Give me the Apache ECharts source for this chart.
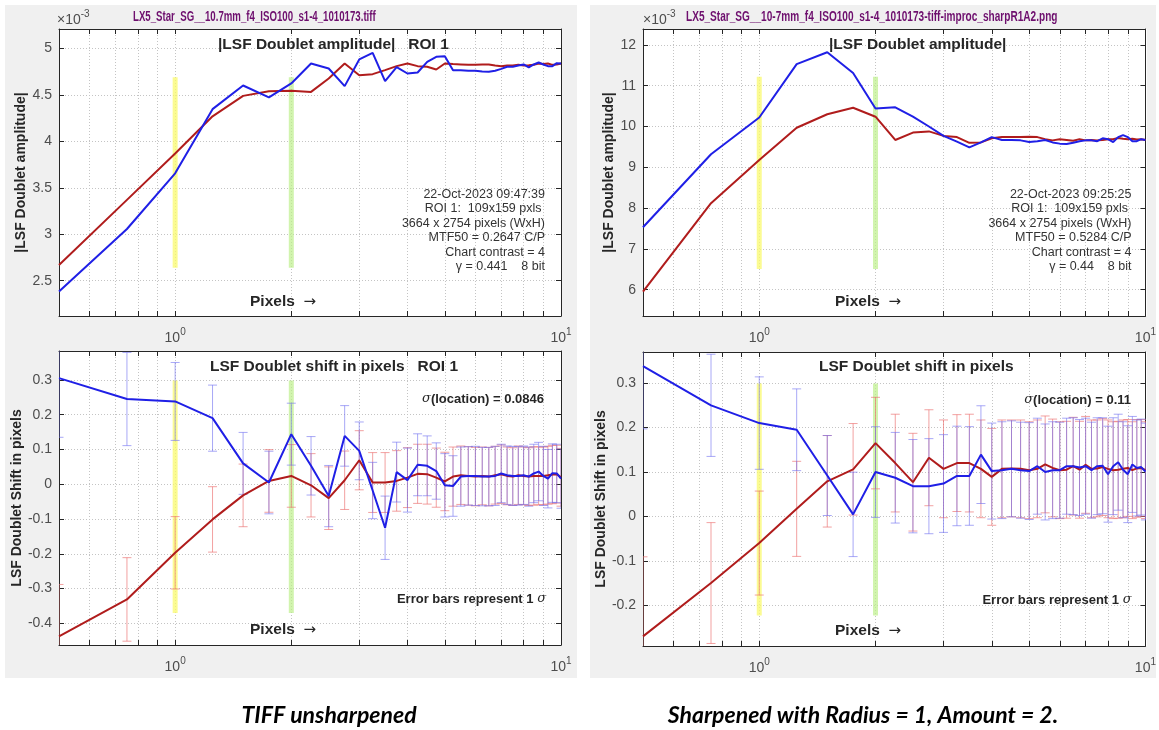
<!DOCTYPE html>
<html><head><meta charset="utf-8">
<script src="https://cdn.jsdelivr.net/npm/echarts@6/dist/echarts.min.js"></script>
<style>html,body{margin:0;padding:0;background:#fff}#c{width:1159px;height:730px}</style>
</head><body><div id="c"></div>
<script>
// ---------- DATA ----------
const pixels = [0.5,0.75,1,1.25,1.5,1.75,2,2.25,2.5,2.75,3,3.25,3.5,3.75,4,4.25,4.5,4.75,5,5.25,5.5,5.75,6,6.25,6.5,6.75,7,7.25,7.5,7.75,8,8.25,8.5,8.75,9,9.25,9.5,9.75,10];

// amplitude (x10^-3), left = TIFF unsharpened
const ampRedL  = [2.67,3.37,3.87,4.27,4.49,4.54,4.544,4.533,4.677,4.839,4.713,4.724,4.767,4.81,4.839,4.81,4.803,4.774,4.839,4.832,4.828,4.824,4.824,4.828,4.828,4.817,4.81,4.817,4.817,4.824,4.817,4.82,4.824,4.839,4.832,4.839,4.824,4.828,4.839];
const ampBlueL = [2.383,3.057,3.656,4.347,4.602,4.473,4.624,4.839,4.785,4.595,4.882,4.953,4.648,4.80,4.731,4.742,4.856,4.91,4.917,4.767,4.767,4.76,4.76,4.753,4.749,4.76,4.781,4.803,4.803,4.817,4.828,4.796,4.828,4.849,4.828,4.81,4.81,4.842,4.839];
// amplitude (x10^-3), right = sharpened
const ampRedR  = [5.95,8.12,9.18,9.97,10.30,10.46,10.24,9.67,9.85,9.88,9.77,9.74,9.60,9.61,9.71,9.74,9.74,9.74,9.75,9.74,9.69,9.66,9.69,9.67,9.65,9.69,9.66,9.67,9.66,9.67,9.69,9.69,9.72,9.70,9.69,9.70,9.68,9.69,9.67];
const ampBlueR = [7.53,9.32,10.22,11.53,11.82,11.31,10.44,10.47,10.24,10.0,9.77,9.63,9.49,9.61,9.74,9.67,9.67,9.66,9.62,9.64,9.67,9.61,9.58,9.57,9.60,9.64,9.66,9.66,9.64,9.71,9.69,9.62,9.74,9.79,9.74,9.64,9.64,9.69,9.67];

// shift in pixels + 1-sigma error bars, left
const shiftRedL  = [-0.437,-0.331,-0.197,-0.101,-0.032,0.0095,0.024,-0.003,-0.040,0.0115,0.069,0.005,0.005,0.0096,0.019,0.030,0.029,0.019,0.008,0.022,0.026,0.024,0.022,0.024,0.022,0.026,0.029,0.024,0.022,0.026,0.024,0.022,0.024,0.024,0.024,0.026,0.028,0.029,0.020];
const sigRedL    = [0.149,0.120,0.104,0.094,0.090,0.090,0.090,0.091,0.090,0.084,0.085,0.086,0.086,0.087,0.086,0.085,0.086,0.085,0.084,0.085,0.084,0.084,0.084,0.083,0.084,0.083,0.084,0.083,0.083,0.084,0.083,0.083,0.084,0.083,0.083,0.083,0.084,0.083,0.083];
const shiftBlueL = [0.305,0.245,0.238,0.190,0.060,0.005,0.144,0.053,-0.034,0.139,0.096,-0.018,-0.125,0.035,0.012,0.056,0.053,0.038,-0.003,-0.005,0.022,0.024,0.024,0.022,0.022,0.024,0.031,0.026,0.024,0.024,0.026,0.022,0.031,0.0365,0.024,0.016,0.032,0.031,0.016];
const sigBlueL   = [0.170,0.134,0.112,0.095,0.089,0.090,0.089,0.084,0.088,0.087,0.083,0.081,0.091,0.086,0.092,0.089,0.086,0.081,0.091,0.087,0.085,0.084,0.085,0.084,0.084,0.085,0.084,0.084,0.085,0.084,0.084,0.085,0.084,0.084,0.085,0.084,0.084,0.084,0.085];
// shift in pixels + 1-sigma error bars, right
const shiftRedR  = [-0.270,-0.150,-0.060,0.017,0.079,0.106,0.165,0.120,0.077,0.132,0.107,0.120,0.120,0.107,0.089,0.107,0.108,0.107,0.104,0.107,0.117,0.109,0.104,0.105,0.113,0.105,0.116,0.107,0.108,0.111,0.107,0.104,0.105,0.107,0.109,0.104,0.108,0.109,0.104];
const sigRedR    = [0.179,0.136,0.117,0.107,0.103,0.103,0.103,0.110,0.110,0.108,0.110,0.109,0.110,0.110,0.109,0.110,0.109,0.110,0.109,0.110,0.109,0.110,0.109,0.109,0.110,0.109,0.109,0.110,0.109,0.109,0.110,0.109,0.109,0.110,0.109,0.109,0.110,0.109,0.109];
const shiftBlueR = [0.338,0.250,0.210,0.195,0.092,0.0045,0.0998,0.087,0.068,0.068,0.074,0.091,0.091,0.139,0.102,0.104,0.107,0.104,0.102,0.113,0.100,0.104,0.104,0.113,0.113,0.110,0.113,0.104,0.113,0.114,0.095,0.113,0.122,0.105,0.095,0.117,0.109,0.111,0.101];
const sigBlueR   = [0.141,0.115,0.104,0.092,0.090,0.095,0.102,0.102,0.105,0.107,0.110,0.112,0.111,0.110,0.108,0.109,0.108,0.108,0.109,0.108,0.108,0.109,0.108,0.108,0.109,0.108,0.108,0.108,0.109,0.108,0.108,0.109,0.108,0.108,0.109,0.108,0.108,0.108,0.109];

// highlighted pixel markers (yellow at 1, green at 2) and their vertical extent per panel
const markerX = [1, 2];
const bandAmpL = [2.64, 4.69];
const bandAmpR = [6.51, 11.22];
const bandShiftL = [-0.37, 0.298];
const bandShiftR = [-0.223, 0.299];

// axes ticks
const xTicks = [0.6,0.7,0.8,0.9,1,2,3,4,5,6,7,8,9,10];
const xLabels = [1, 10];
const yTicksAmpL = [2.5,3,3.5,4,4.5,5];
const yTicksAmpR = [6,7,8,9,10,11,12];
const yTicksShiftL = [-0.4,-0.3,-0.2,-0.1,0,0.1,0.2,0.3];
const yTicksShiftR = [-0.2,-0.1,0,0.1,0.2,0.3];

// texts
const figTitleL = 'LX5_Star_SG__10.7mm_f4_ISO100_s1-4_1010173.tiff';
const figTitleR = 'LX5_Star_SG__10-7mm_f4_ISO100_s1-4_1010173-tiff-improc_sharpR1A2.png';
const infoL = ['22-Oct-2023 09:47:39','ROI 1:  109x159 pxls ','3664 x 2754 pixels (WxH)','MTF50 = 0.2647 C/P','Chart contrast = 4','\u03b3 = 0.441    8 bit'];
const infoR = ['22-Oct-2023 09:25:25','ROI 1:  109x159 pxls ','3664 x 2754 pixels (WxH)','MTF50 = 0.5284 C/P','Chart contrast = 4','\u03b3 = 0.44    8 bit'];
const sigmaLocL = '0.0846';
const sigmaLocR = '0.11';

// ---------- STYLE ----------
const FONT = 'Liberation Sans, Arial, Helvetica, sans-serif';
const RED = '#b01c1c', BLUE = '#1f1fe6';
const RED_EB = 'rgba(235,110,110,0.65)', BLUE_EB = 'rgba(110,110,240,0.6)';
const AX = '#262626', TICKLBL = '#4d4d4d', GRIDC = '#c4c4c4';

const grids = [
  {left: 59,  top: 29,  width: 502, height: 287},
  {left: 643, top: 29,  width: 504, height: 287},
  {left: 59,  top: 351, width: 502, height: 294},
  {left: 643, top: 352, width: 504, height: 294}
];
const yRanges = [[2.12, 5.21], [5.355, 12.39], [-0.462, 0.383], [-0.2917, 0.37]];
const yTickSets = [yTicksAmpL, yTicksAmpR, yTicksShiftL, yTicksShiftR];
const yNames = ['|LSF Doublet amplitude|','|LSF Doublet amplitude|','LSF Doublet Shift in pixels','LSF Doublet Shift in pixels'];
const yNameGaps = [24, 23, 32, 33];

const xAxis = [], yAxis = [];
grids.forEach((g, gi) => {
  const tickBase = {show: true, inside: true, length: 5, customValues: xTicks, lineStyle: {color: AX, width: 1}};
  xAxis.push({
    type: 'log', logBase: 10, gridIndex: gi, min: 0.5, max: 10, position: 'bottom',
    axisLine: {show: true, onZero: false, lineStyle: {color: AX, width: 1}},
    axisTick: tickBase,
    axisLabel: {
      show: true, customValues: xLabels, margin: 11, color: TICKLBL,
      formatter: v => '{b|10}{s|' + Math.round(Math.log10(v)) + '}',
      rich: {b: {fontSize: 14, fontFamily: FONT, color: TICKLBL, verticalAlign: 'bottom', lineHeight: 18},
             s: {fontSize: 10, fontFamily: FONT, color: TICKLBL, verticalAlign: 'top', lineHeight: 18}}
    },
    splitLine: {show: true, lineStyle: {type: [1, 2], color: GRIDC, width: 1}},
    minorTick: {show: false}, minorSplitLine: {show: false}
  });
  xAxis.push({
    type: 'log', logBase: 10, gridIndex: gi, min: 0.5, max: 10, position: 'top',
    axisLine: {show: true, onZero: false, lineStyle: {color: AX, width: 1}},
    axisTick: tickBase, axisLabel: {show: false}, splitLine: {show: false}
  });
  const yt = {show: true, inside: true, length: 5, customValues: yTickSets[gi], lineStyle: {color: AX, width: 1}};
  yAxis.push({
    type: 'value', gridIndex: gi, min: yRanges[gi][0], max: yRanges[gi][1], position: 'left',
    axisLine: {show: true, onZero: false, lineStyle: {color: AX, width: 1}},
    axisTick: yt,
    axisLabel: {show: true, customValues: yTickSets[gi], margin: 7, color: TICKLBL, fontSize: 14, fontFamily: FONT},
    splitLine: {show: true, lineStyle: {type: [1, 2], color: GRIDC, width: 1}},
    name: yNames[gi], nameLocation: 'middle', nameGap: yNameGaps[gi], nameRotate: 90,
    nameTextStyle: {fontSize: 14, fontWeight: 'bold', color: AX, fontFamily: FONT}
  });
  yAxis.push({
    type: 'value', gridIndex: gi, min: yRanges[gi][0], max: yRanges[gi][1], position: 'right',
    axisLine: {show: true, onZero: false, lineStyle: {color: AX, width: 1}},
    axisTick: yt, axisLabel: {show: false}, splitLine: {show: false}
  });
});

const series = [];
function band(gi, x, range, color) {
  series.push({type: 'line', xAxisIndex: 2*gi, yAxisIndex: 2*gi, data: [[x, range[0]], [x, range[1]]],
    symbol: 'none', silent: true, z: 1, lineStyle: {width: 5, color: color, cap: 'butt'}});
}
function errBars(gi, centers, sigmas, color) {
  series.push({type: 'custom', xAxisIndex: 2*gi, yAxisIndex: 2*gi, clip: true, silent: true, z: 2,
    data: pixels.map((x, i) => [x, centers[i] - sigmas[i], centers[i] + sigmas[i]]),
    encode: {x: 0, y: [1, 2]},
    renderItem: (params, api) => {
      const x = api.value(0);
      const lo = api.coord([x, api.value(1)]), hi = api.coord([x, api.value(2)]);
      const hw = 4.5, st = {stroke: color, lineWidth: 1};
      return {type: 'group', children: [
        {type: 'line', shape: {x1: hi[0], y1: hi[1], x2: lo[0], y2: lo[1]}, style: st},
        {type: 'line', shape: {x1: hi[0]-hw, y1: hi[1], x2: hi[0]+hw, y2: hi[1]}, style: st},
        {type: 'line', shape: {x1: lo[0]-hw, y1: lo[1], x2: lo[0]+hw, y2: lo[1]}, style: st}
      ]};
    }});
}
function curve(gi, vals, color) {
  series.push({type: 'line', xAxisIndex: 2*gi, yAxisIndex: 2*gi, data: pixels.map((x, i) => [x, vals[i]]),
    symbol: 'none', showSymbol: false, silent: true, z: 3, clip: true, lineStyle: {width: 2, color: color}});
}
const YEL = 'rgba(250,250,110,0.75)', GRN = 'rgba(190,240,140,0.7)';
[[0, bandAmpL], [1, bandAmpR], [2, bandShiftL], [3, bandShiftR]].forEach(([gi, r]) => {
  band(gi, markerX[0], r, YEL); band(gi, markerX[1], r, GRN);
});
curve(0, ampRedL, RED); curve(0, ampBlueL, BLUE);
curve(1, ampRedR, RED); curve(1, ampBlueR, BLUE);
errBars(2, shiftRedL, sigRedL, RED_EB); errBars(2, shiftBlueL, sigBlueL, BLUE_EB);
curve(2, shiftRedL, RED); curve(2, shiftBlueL, BLUE);
errBars(3, shiftRedR, sigRedR, RED_EB); errBars(3, shiftBlueR, sigBlueR, BLUE_EB);
curve(3, shiftRedR, RED); curve(3, shiftBlueR, BLUE);

// ---------- TEXT ----------
function txt(x, y, text, o) {
  o = o || {};
  const st = {text: text, fill: o.fill || AX, align: o.align || 'left', verticalAlign: o.va || 'middle'};
  if (o.size) { st.fontSize = o.size; st.fontWeight = o.weight || 'normal'; st.fontFamily = o.family || FONT; st.fontStyle = o.style || 'normal'; }
  else st.font = o.font || ('bold 15.5px ' + FONT);
  const el = {type: 'text', x: x, y: y, z: 50, silent: true, style: Object.assign(st, o.extra || {})};
  if (o.scaleX) { el.scaleX = o.scaleX; el.scaleY = 1; }
  return el;
}
const supRich = {a: {fontSize: 14, fontFamily: FONT, fill: TICKLBL, color: TICKLBL, verticalAlign: 'bottom', lineHeight: 18},
                 s: {fontSize: 10, fontFamily: FONT, fill: TICKLBL, color: TICKLBL, verticalAlign: 'top', lineHeight: 18}};
const pixRich = {b: {fontSize: 15.5, fontWeight: 'bold', fontFamily: FONT, fill: AX},
                 n: {fontSize: 15, fontFamily: 'DejaVu Sans, sans-serif', fill: AX}};
const sigRich = {i: {fontSize: 13, fontStyle: 'italic', fontFamily: 'DejaVu Serif, serif', fill: AX},
                 b: {fontSize: 13, fontWeight: 'bold', fontFamily: FONT, fill: AX}};
const graphic = [
  {type: 'rect', z: -10, shape: {x: 5, y: 5, width: 572, height: 673}, style: {fill: '#f0f0f0'}},
  {type: 'rect', z: -10, shape: {x: 590, y: 5, width: 566, height: 673}, style: {fill: '#f0f0f0'}},
  {type: 'rect', z: -9, shape: {x: 59, y: 29, width: 502, height: 287}, style: {fill: '#fff'}},
  {type: 'rect', z: -9, shape: {x: 643, y: 29, width: 504, height: 287}, style: {fill: '#fff'}},
  {type: 'rect', z: -9, shape: {x: 59, y: 351, width: 502, height: 294}, style: {fill: '#fff'}},
  {type: 'rect', z: -9, shape: {x: 643, y: 352, width: 504, height: 294}, style: {fill: '#fff'}},
  txt(133, 17, figTitleL, {fill: '#6e0f6e', size: 14, weight: 'bold', scaleX: 0.69}),
  txt(686, 17, figTitleR, {fill: '#6e0f6e', size: 14, weight: 'bold', scaleX: 0.72}),
  txt(57, 18, '{a|\u00d710}{s|-3}', {extra: {rich: supRich}}),
  txt(643, 18, '{a|\u00d710}{s|-3}', {extra: {rich: supRich}}),
  txt(218, 45, '|LSF Doublet amplitude|   ROI 1'),
  txt(829, 45, '|LSF Doublet amplitude|'),
  txt(210, 367, 'LSF Doublet shift in pixels   ROI 1'),
  txt(819, 367, 'LSF Doublet shift in pixels'),
  txt(250, 302, '{b|Pixels}  {n|\u2192}', {extra: {rich: pixRich}}),
  txt(835, 302, '{b|Pixels}  {n|\u2192}', {extra: {rich: pixRich}}),
  txt(250, 630, '{b|Pixels}  {n|\u2192}', {extra: {rich: pixRich}}),
  txt(835, 631, '{b|Pixels}  {n|\u2192}', {extra: {rich: pixRich}}),
  txt(545, 187, infoL.join('\n'), {align: 'right', va: 'top', fill: '#333', font: '12.5px ' + FONT, extra: {lineHeight: 14.5}}),
  txt(1131.5, 187, infoR.join('\n'), {align: 'right', va: 'top', fill: '#333', font: '12.5px ' + FONT, extra: {lineHeight: 14.5}}),
  txt(544, 399, '{i|\u03c3}{b|(location) = ' + sigmaLocL + '}', {align: 'right', extra: {rich: sigRich}}),
  txt(1131, 400, '{i|\u03c3}{b|(location) = ' + sigmaLocR + '}', {align: 'right', extra: {rich: sigRich}}),
  txt(546, 599, '{b|Error bars represent 1 }{i|\u03c3}', {align: 'right', extra: {rich: sigRich}}),
  txt(1131.5, 600, '{b|Error bars represent 1 }{i|\u03c3}', {align: 'right', extra: {rich: sigRich}}),
  txt(329, 716, 'TIFF unsharpened', {align: 'center', fill: '#000', font: 'italic bold 23px Lato, sans-serif'}),
  txt(863, 716, 'Sharpened with Radius = 1, Amount = 2.', {align: 'center', fill: '#000', font: 'italic bold 23px Lato, sans-serif'})
];

const chart = echarts.init(document.getElementById('c'), null, {renderer: 'canvas'});
chart.setOption({
  animation: false,
  backgroundColor: '#ffffff',
  grid: grids.map(g => Object.assign({containLabel: false, show: false}, g)),
  xAxis: xAxis, yAxis: yAxis, series: series, graphic: graphic
});
</script></body></html>
